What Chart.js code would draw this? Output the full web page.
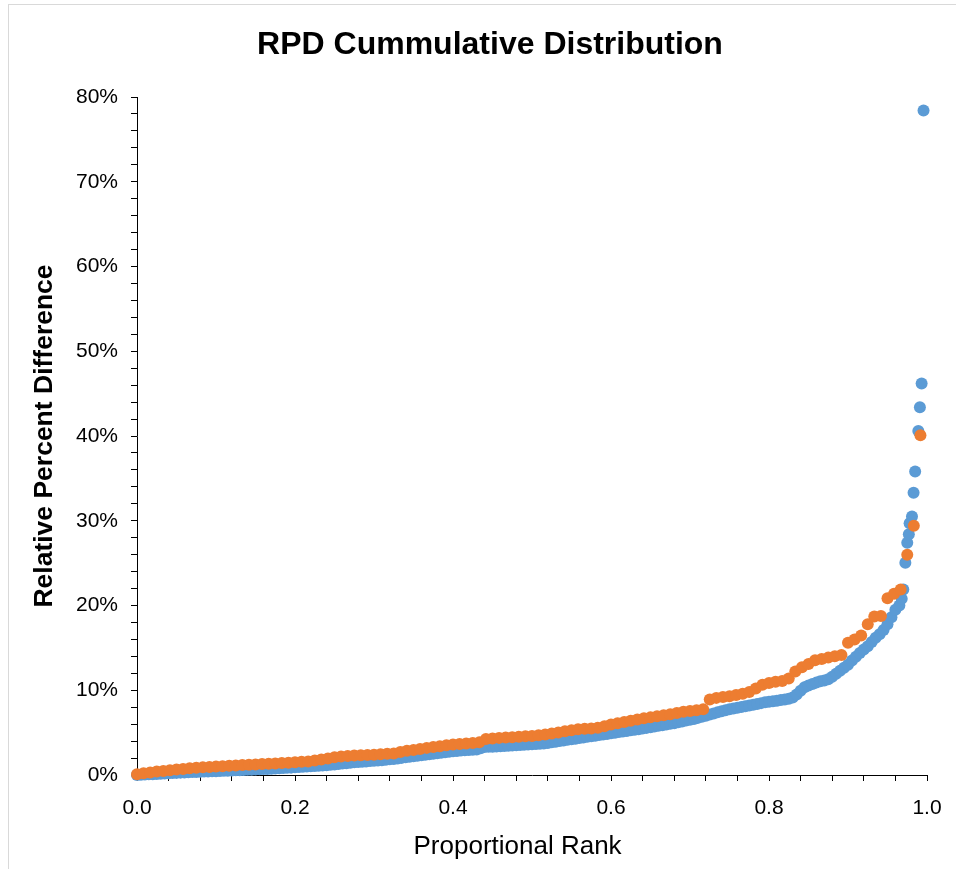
<!DOCTYPE html>
<html>
<head>
<meta charset="utf-8">
<script src="https://cdn.jsdelivr.net/npm/chart.js@4.4.0/dist/chart.umd.min.js"></script>
<style>
html,body{margin:0;padding:0;background:#fff;overflow:hidden}
#wrap{position:relative;width:956px;height:869px}
</style>
</head>
<body>
<div id="wrap"><canvas id="c" width="956" height="869"></canvas></div>
<script>
// ---- data ----
const blueRank = [
0,0.005,0.01,0.015,0.02,0.025,0.03,0.035,0.04,0.045,
0.05,0.055,0.06,0.065,0.07,0.075,0.08,0.085,0.09,0.095,
0.1,0.105,0.11,0.115,0.12,0.125,0.13,0.135,0.14,0.145,
0.15,0.155,0.16,0.165,0.17,0.175,0.18,0.185,0.19,0.195,
0.2,0.205,0.21,0.215,0.22,0.225,0.23,0.235,0.24,0.245,
0.25,0.255,0.26,0.265,0.27,0.275,0.28,0.285,0.29,0.295,
0.3,0.305,0.31,0.315,0.32,0.325,0.33,0.335,0.34,0.345,
0.35,0.355,0.36,0.365,0.37,0.375,0.38,0.385,0.39,0.395,
0.4,0.405,0.41,0.415,0.42,0.425,0.43,0.435,0.44,0.445,
0.45,0.455,0.46,0.465,0.47,0.475,0.48,0.485,0.49,0.495,
0.5,0.505,0.51,0.515,0.52,0.525,0.53,0.535,0.54,0.545,
0.55,0.555,0.56,0.565,0.57,0.575,0.58,0.585,0.59,0.595,
0.6,0.605,0.61,0.615,0.62,0.625,0.63,0.635,0.64,0.645,
0.65,0.655,0.66,0.665,0.67,0.675,0.68,0.685,0.69,0.695,
0.7,0.705,0.71,0.715,0.72,0.725,0.73,0.735,0.74,0.745,
0.75,0.755,0.76,0.765,0.77,0.775,0.78,0.785,0.79,0.795,
0.8,0.805,0.81,0.815,0.82,0.825,0.83,0.835,0.84,0.845,
0.85,0.855,0.86,0.865,0.87,0.875,0.88,0.885,0.89,0.895,
0.9,0.905,0.91,0.915,0.92,0.925,0.93,0.935,0.94,0.945,
0.95,0.955,0.96,0.965,
0.968,0.97,0.9726,0.975,0.977,0.978,0.981,0.983,0.985,0.989,0.991,0.9932,0.9956
];
const blueRPD = [
0,0.03,0.05,0.08,0.10,0.13,0.15,0.18,0.20,0.23,
0.25,0.28,0.30,0.32,0.34,0.36,0.38,0.40,0.42,0.43,
0.45,0.47,0.49,0.51,0.53,0.55,0.57,0.59,0.61,0.63,
0.65,0.67,0.70,0.72,0.75,0.77,0.80,0.82,0.85,0.87,
0.90,0.93,0.96,0.99,1.02,1.05,1.08,1.11,1.15,1.20,
1.25,1.30,1.35,1.40,1.45,1.50,1.53,1.57,1.60,1.64,
1.67,1.71,1.75,1.80,1.85,1.90,1.96,2.02,2.08,2.14,
2.20,2.26,2.32,2.38,2.44,2.50,2.56,2.62,2.68,2.74,
2.80,2.84,2.88,2.92,2.95,2.98,3.00,3.15,3.30,3.32,
3.34,3.36,3.38,3.41,3.44,3.47,3.50,3.53,3.56,3.59,
3.62,3.65,3.68,3.72,3.78,3.85,3.93,4.00,4.08,4.15,
4.22,4.29,4.36,4.43,4.50,4.57,4.64,4.71,4.78,4.85,
4.92,4.99,5.06,5.13,5.20,5.27,5.34,5.41,5.48,5.56,
5.64,5.72,5.80,5.88,5.96,6.04,6.12,6.22,6.32,6.42,
6.52,6.62,6.74,6.86,7.00,7.15,7.27,7.39,7.51,7.63,
7.75,7.85,7.94,8.03,8.12,8.21,8.30,8.39,8.48,8.57,
8.63,8.70,8.77,8.84,8.92,9.00,9.15,9.50,9.95,10.35,
10.55,10.75,10.90,11.05,11.15,11.30,11.60,11.95,12.30,12.65,
13.00,13.50,13.95,14.40,14.80,15.20,15.70,16.20,16.60,17.10,
17.80,18.60,19.50,20.00,
20.8,21.9,25.05,27.4,28.4,29.7,30.5,33.3,35.8,40.6,43.4,46.2,78.4
];
const orangeRank = [
0,0.0083,0.0167,0.025,0.0333,0.0417,0.05,0.0583,0.0667,0.075,0.0833,0.0917,
0.1,0.1083,0.1167,0.125,0.1333,0.1417,0.15,0.1583,0.1667,0.175,0.1833,0.1917,
0.2,0.2083,0.2167,0.225,0.2333,0.2417,0.25,0.2583,0.2667,0.275,0.2833,0.2917,
0.3,0.3083,0.3167,0.325,0.3333,0.3417,0.35,0.3583,0.3667,0.375,0.3833,0.3917,
0.4,0.4083,0.4167,0.425,0.4333,0.4417,0.45,0.4583,0.4667,0.475,0.4833,0.4917,
0.5,0.5083,0.5167,0.525,0.5333,0.5417,0.55,0.5583,0.5667,0.575,0.5833,0.5917,
0.6,0.6083,0.6167,0.625,0.6333,0.6417,0.65,0.6583,0.6667,0.675,0.6833,0.6917,
0.7,0.7083,0.7167,0.725,0.7333,0.7417,0.75,0.7583,0.7667,0.775,0.7833,0.7917,
0.8,0.8083,0.8167,0.825,0.8333,0.8417,0.85,0.8583,0.8667,0.875,0.8833,0.8917,
0.9,0.9083,0.9167,0.925,0.9333,0.9417,0.95,0.9583,0.9667,0.975,0.9833,0.9917
];
const orangeRPD = [
0.10,0.20,0.30,0.40,0.48,0.57,0.65,0.72,0.79,0.85,0.90,0.95,
1.00,1.04,1.08,1.12,1.17,1.21,1.25,1.29,1.33,1.37,1.41,1.45,
1.50,1.55,1.60,1.70,1.82,1.95,2.10,2.18,2.24,2.30,2.33,2.37,
2.40,2.45,2.50,2.55,2.70,2.85,2.95,3.08,3.20,3.30,3.40,3.50,
3.60,3.66,3.72,3.78,3.85,4.25,4.32,4.38,4.42,4.46,4.52,4.56,
4.60,4.68,4.78,4.90,5.02,5.15,5.28,5.40,5.45,5.50,5.58,5.75,
5.95,6.10,6.25,6.40,6.55,6.70,6.80,6.92,7.05,7.18,7.32,7.45,
7.55,7.65,7.75,8.90,9.10,9.20,9.30,9.45,9.60,9.80,10.20,10.65,
10.85,11.00,11.10,11.40,12.20,12.70,13.10,13.55,13.70,13.85,14.00,14.15,
15.60,16.00,16.45,17.80,18.70,18.75,20.85,21.40,21.90,26.00,29.40,40.10
];
const xTickLabels = ['0.0','0.2','0.4','0.6','0.8','1.0'];
const yTickLabels = ['0%','10%','20%','30%','40%','50%','60%','70%','80%'];

// ---- chart ----
const pts = (xs, ys) => xs.map((x, i) => ({x: x, y: ys[i]}));
Chart.defaults.font.family = "'Liberation Sans', Arial, sans-serif";
Chart.defaults.color = '#000';

const framePlugin = {
  id: 'frame',
  beforeDraw(chart) {
    const c = chart.ctx;
    c.save();
    c.fillStyle = '#fff';
    c.fillRect(0, 0, chart.width, chart.height);
    c.strokeStyle = '#D9D9D9';
    c.lineWidth = 1;
    c.strokeRect(8.5, 4.5, 2000, 2000);
    c.restore();
  }
};

const axisGrid = {drawOnChartArea: false, drawTicks: true, tickLength: 6, color: '#000', tickColor: '#000', lineWidth: 1};

new Chart(document.getElementById('c').getContext('2d'), {
  type: 'scatter',
  data: {
    datasets: [
      {label: 'Orange', data: pts(orangeRank, orangeRPD), backgroundColor: '#ED7D31', borderColor: '#ED7D31',
       pointRadius: 6, pointBorderWidth: 0, borderWidth: 0, clip: false, order: 1},
      {label: 'Blue', data: pts(blueRank, blueRPD), backgroundColor: '#5B9BD5', borderColor: '#5B9BD5',
       pointRadius: 6, pointBorderWidth: 0, borderWidth: 0, clip: false, order: 2}
    ]
  },
  options: {
    responsive: false,
    animation: false,
    devicePixelRatio: 1,
    layout: {padding: {left: 53, right: 29, top: 0, bottom: 0}},
    plugins: {
      legend: {display: false},
      tooltip: {enabled: false},
      title: {display: true, text: 'RPD Cummulative Distribution', color: '#000',
              font: {size: 32, weight: 'bold'}, padding: {top: 26, bottom: 32.6}}
    },
    scales: {
      x: {
        type: 'linear', min: 0, max: 1,
        afterFit(s) { s.height = 94; },
        ticks: {
          stepSize: 0.04, autoSkip: false, maxRotation: 0, padding: 14.4, color: '#000', font: {size: 21},
          callback(v) {
            const i = Math.round(v / 0.2);
            return Math.abs(v - i * 0.2) < 1e-6 ? xTickLabels[i] : '';
          }
        },
        grid: axisGrid,
        border: {display: true, color: '#000', width: 1},
        title: {display: true, text: 'Proportional Rank    ', color: '#000', font: {size: 26}, padding: {top: 0, bottom: 6.4}}
      },
      y: {
        type: 'linear', min: 0, max: 80,
        afterFit(s) { s.width = 84; },
        ticks: {
          stepSize: 2, autoSkip: false, padding: 13, color: '#000', font: {size: 21},
          callback(v) {
            const i = Math.round(v / 10);
            return Math.abs(v - i * 10) < 1e-6 ? yTickLabels[i] : '';
          }
        },
        grid: axisGrid,
        border: {display: true, color: '#000', width: 1},
        title: {display: true, text: 'Relative Percent Difference', color: '#000',
                font: {size: 26.5, weight: 'bold'}, padding: {top: -23.9, bottom: 0}}
      }
    }
  },
  plugins: [framePlugin]
});
</script>
</body>
</html>
